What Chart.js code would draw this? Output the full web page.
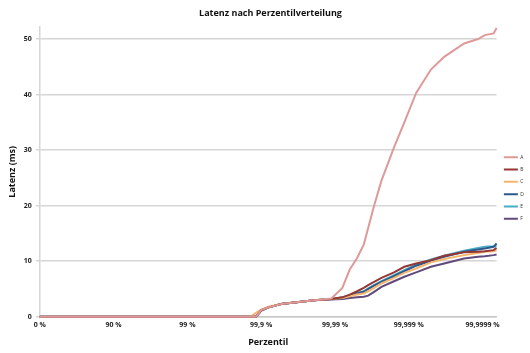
<!DOCTYPE html>
<html>
<head>
<meta charset="utf-8">
<script src="https://cdn.jsdelivr.net/npm/chart.js@4.4.1/dist/chart.umd.min.js"></script>
<style>
  html, body { margin: 0; padding: 0; background: #fff; }
  #wrap { width: 530px; height: 353px; }
</style>
</head>
<body>
<div id="wrap"><canvas id="latency-chart"></canvas></div>
<script>
// x in "nines": 0 = 0 %, 1 = 90 %, 2 = 99 %, ... 6 = 99,9999 %
const nines = [0, 2.85, 2.93, 3.0, 3.1, 3.27, 3.54, 3.72, 3.95, 4.1, 4.2, 4.3, 4.39, 4.45, 4.53, 4.63, 4.8, 4.94, 5.1, 5.3, 5.48, 5.75, 5.94, 6.03, 6.15, 6.19];
const tickLabels = ['0 %', '90 %', '99 %', '99,9 %', '99,99 %', '99,999 %', '99,9999 %'];
const yTicks = [0, 10, 20, 30, 40, 50];

const seriesNames = ['A', 'B', 'C', 'D', 'E', 'F'];
const latA = [0, 0, 0, 1.2, 1.7, 2.3, 2.7, 3.0, 3.3, 5.2, 8.5, 10.6, 13, 16, 20, 24.5, 30.5, 35, 40.3, 44.5, 46.8, 49.2, 50, 50.7, 51, 52];
const latB = [0, 0, 0, 1.2, 1.7, 2.3, 2.7, 3.0, 3.2, 3.5, 4.0, 4.6, 5.2, 5.7, 6.3, 7.0, 8.0, 9.0, 9.6, 10.2, 11.0, 11.6, 11.7, 11.8, 12.0, 12.4];
const latC = [0, 0, 0.7, 1.3, 1.8, 2.3, 2.7, 3.0, 3.2, 3.4, 3.7, 4.0, 4.2, 4.6, 5.2, 6.0, 7.0, 7.9, 8.7, 9.8, 10.4, 11.1, 11.5, 11.7, 11.8, 12.0];
const latD = [0, 0, 0, 1.1, 1.7, 2.3, 2.7, 3.0, 3.2, 3.4, 3.8, 4.2, 4.5, 5.0, 5.6, 6.3, 7.3, 8.2, 9.2, 10.1, 10.8, 11.7, 12.1, 12.3, 12.6, 13.2];
const latE = [0, 0, 0, 1.1, 1.7, 2.3, 2.7, 3.0, 3.2, 3.5, 3.9, 4.3, 4.6, 5.1, 5.7, 6.4, 7.5, 8.4, 9.4, 10.3, 11.0, 11.9, 12.4, 12.6, 12.7, 12.8];
const latF = [0, 0, 0, 1.1, 1.7, 2.3, 2.7, 3.0, 3.1, 3.2, 3.4, 3.5, 3.6, 3.8, 4.5, 5.4, 6.4, 7.2, 8.0, 9.0, 9.6, 10.5, 10.8, 10.9, 11.1, 11.2];
const colors = ['#dd9a98', '#953735', '#f5b56e', '#2c5a8c', '#4bacc6', '#604a7b'];

const allSeries = [latA, latB, latC, latD, latE, latF];
const datasets = allSeries.map((vals, i) => ({
    label: seriesNames[i],
    data: vals.map((v, j) => ({ x: nines[j], y: v })),
    borderColor: colors[i],
    backgroundColor: colors[i],
    borderWidth: 2,
    pointRadius: 0,
    tension: 0,
    clip: false,
}));

const tickFont = { family: 'Open Sans', size: 7, weight: 'bold' };
const titleFont = { family: 'Open Sans', size: 9, weight: 'bold' };

new Chart(document.getElementById('latency-chart'), {
    type: 'line',
    data: { datasets: datasets },
    options: {
        responsive: true,
        maintainAspectRatio: false,
        animation: false,
        layout: { padding: { left: 7, right: -4, top: 0, bottom: 5 } },
        scales: {
            x: {
                type: 'linear',
                min: 0,
                max: 6.19,
                afterBuildTicks: (axis) => { axis.ticks = tickLabels.map((t, i) => ({ value: i })); },
                ticks: {
                    color: '#222',
                    font: tickFont,
                    padding: 1,
                    maxRotation: 0,
                    callback: (v) => tickLabels[v],
                },
                grid: { display: false, drawTicks: true, tickLength: 3, color: '#c8c8c8' },
                border: { color: '#c8c8c8', width: 1.5 },
                title: { display: true, text: 'Perzentil', color: '#111', font: titleFont, padding: { top: 7, bottom: 0 } },
            },
            y: {
                min: 0,
                max: 52.2,
                afterBuildTicks: (axis) => { axis.ticks = yTicks.map((v) => ({ value: v })); },
                ticks: { color: '#222', font: tickFont, padding: 4 },
                grid: { color: '#d6d6d6', lineWidth: 1.5, tickLength: 4 },
                border: { color: '#d6d6d6', width: 1.5 },
                title: { display: true, text: 'Latenz (ms)', color: '#111', font: titleFont, padding: { top: 0, bottom: 2 } },
            },
        },
        plugins: {
            title: {
                display: true,
                text: 'Latenz nach Perzentilverteilung',
                color: '#111',
                font: titleFont,
                padding: { top: 8, bottom: 8 },
            },
            legend: {
                display: true,
                position: 'right',
                title: { display: true, text: '', padding: 11, font: { size: 5 } },
                labels: {
                    usePointStyle: true,
                    pointStyle: 'line',
                    pointStyleWidth: 14,
                    boxHeight: 5,
                    padding: 7.3,
                    color: '#333',
                    font: { family: 'Open Sans', size: 5 },
                },
            },
            tooltip: { enabled: false },
        },
    },
});
</script>
</body>
</html>
